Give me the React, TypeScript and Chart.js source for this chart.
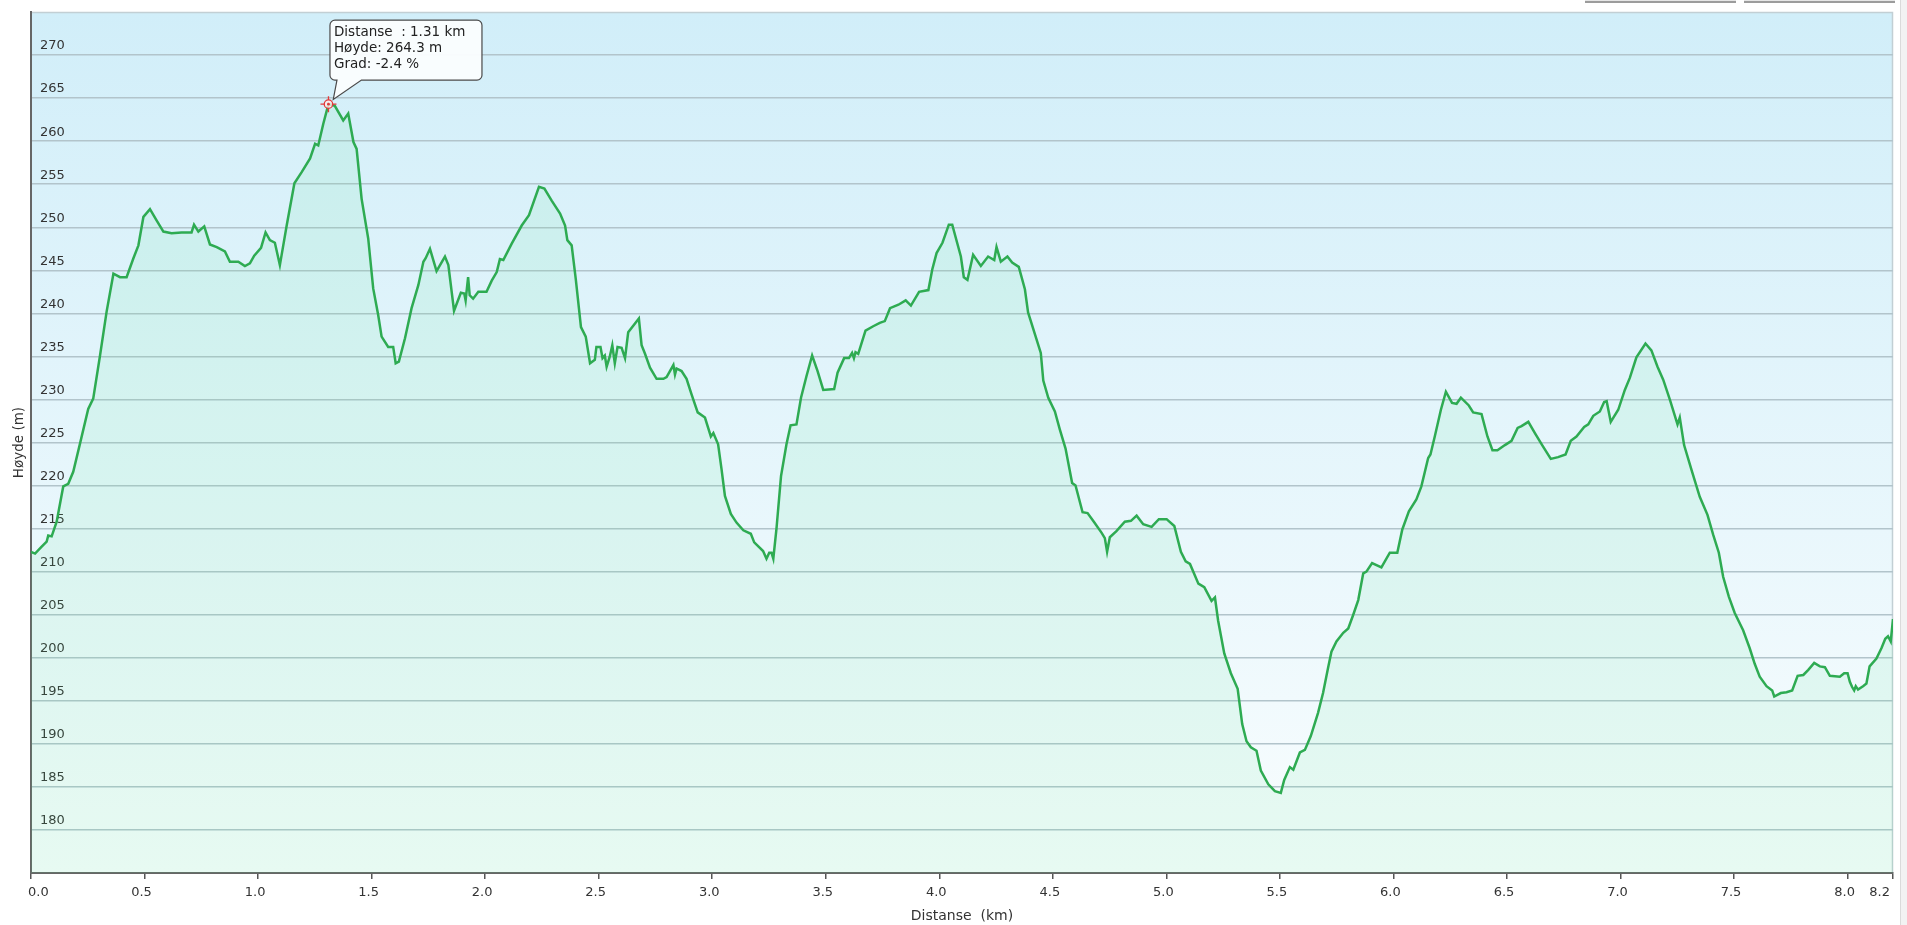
import React, { useEffect, useRef } from "react";
import { Chart, registerables } from "chart.js";

Chart.register(...registerables);

// ---------- data ----------
const distanceKm: number[] = [
  0.0, 0.018, 0.047, 0.069, 0.076, 0.091, 0.113, 0.142, 0.164, 0.186, 0.216, 0.252, 0.274, 0.304, 0.333,
  0.363, 0.392, 0.421, 0.451, 0.473, 0.495, 0.524, 0.553, 0.583, 0.619, 0.663, 0.707, 0.718, 0.737, 0.763,
  0.788, 0.818, 0.854, 0.876, 0.913, 0.942, 0.964, 0.983, 1.013, 1.033, 1.052, 1.074, 1.096, 1.126, 1.16,
  1.192, 1.229, 1.251, 1.265, 1.287, 1.31, 1.338, 1.375, 1.397, 1.42, 1.434, 1.456, 1.485, 1.507, 1.529,
  1.544, 1.573, 1.595, 1.606, 1.62, 1.647, 1.676, 1.706, 1.728, 1.738, 1.757, 1.786, 1.823, 1.838, 1.863,
  1.893, 1.908, 1.914, 1.925, 1.932, 1.947, 1.97, 2.006, 2.029, 2.051, 2.065, 2.08, 2.117, 2.161, 2.193,
  2.237, 2.261, 2.293, 2.33, 2.352, 2.362, 2.381, 2.399, 2.422, 2.443, 2.462, 2.483, 2.49, 2.508, 2.517,
  2.527, 2.535, 2.549, 2.56, 2.571, 2.583, 2.601, 2.616, 2.63, 2.677, 2.689, 2.704, 2.726, 2.755, 2.785,
  2.799, 2.829, 2.836, 2.843, 2.865, 2.887, 2.909, 2.936, 2.968, 2.994, 3.005, 3.026, 3.041, 3.056, 3.082,
  3.107, 3.137, 3.17, 3.185, 3.224, 3.239, 3.251, 3.261, 3.269, 3.283, 3.303, 3.327, 3.345, 3.371, 3.391,
  3.415, 3.44, 3.464, 3.489, 3.537, 3.552, 3.581, 3.602, 3.616, 3.624, 3.631, 3.643, 3.675, 3.709, 3.738,
  3.76, 3.783, 3.82, 3.852, 3.875, 3.911, 3.952, 3.969, 3.988, 4.014, 4.042, 4.057, 4.095, 4.108, 4.124,
  4.149, 4.183, 4.215, 4.242, 4.252, 4.271, 4.3, 4.321, 4.35, 4.377, 4.391, 4.421, 4.447, 4.458, 4.48,
  4.509, 4.531, 4.556, 4.585, 4.6, 4.631, 4.653, 4.683, 4.715, 4.729, 4.739, 4.751, 4.78, 4.817, 4.844,
  4.869, 4.898, 4.935, 4.967, 5.001, 5.035, 5.064, 5.085, 5.104, 5.141, 5.167, 5.199, 5.214, 5.228, 5.255,
  5.284, 5.314, 5.334, 5.353, 5.372, 5.397, 5.416, 5.449, 5.478, 5.504, 5.519, 5.544, 5.559, 5.588, 5.61,
  5.636, 5.668, 5.69, 5.712, 5.727, 5.749, 5.779, 5.801, 5.823, 5.845, 5.867, 5.881, 5.906, 5.947, 5.984,
  6.017, 6.039, 6.068, 6.101, 6.123, 6.153, 6.163, 6.182, 6.209, 6.231, 6.258, 6.278, 6.297, 6.332, 6.351,
  6.388, 6.414, 6.436, 6.458, 6.491, 6.52, 6.547, 6.564, 6.594, 6.623, 6.655, 6.693, 6.725, 6.758, 6.781,
  6.806, 6.84, 6.858, 6.88, 6.909, 6.928, 6.939, 6.957, 6.99, 7.019, 7.041, 7.07, 7.11, 7.136, 7.163,
  7.188, 7.217, 7.251, 7.261, 7.28, 7.313, 7.349, 7.383, 7.408, 7.433, 7.452, 7.477, 7.503, 7.54, 7.569,
  7.591, 7.613, 7.643, 7.668, 7.677, 7.706, 7.731, 7.756, 7.78, 7.805, 7.827, 7.853, 7.878, 7.9, 7.922,
  7.966, 7.985, 8.0, 8.01, 8.02, 8.029, 8.036, 8.046, 8.068, 8.083, 8.097, 8.127, 8.149, 8.166, 8.178,
  8.19, 8.2,
];

const elevationM: number[] = [
  212.3, 212.1, 212.9, 213.5, 214.2, 214.1, 215.8, 219.9, 220.2, 221.6, 224.9, 228.9, 230.1, 235.1, 240.2,
  244.6, 244.2, 244.2, 246.4, 247.9, 251.2, 252.1, 250.8, 249.5, 249.3, 249.4, 249.4, 250.3, 249.5, 250.1,
  248.0, 247.7, 247.2, 246.0, 246.0, 245.5, 245.8, 246.7, 247.6, 249.4, 248.5, 248.2, 245.6, 250.2, 255.1,
  256.4, 258.0, 259.7, 259.5, 262.0, 264.3, 264.1, 262.4, 263.2, 259.9, 259.1, 253.3, 248.7, 242.9, 239.8,
  237.3, 236.1, 236.1, 234.2, 234.4, 237.1, 240.6, 243.3, 246.0, 246.4, 247.5, 244.9, 246.6, 245.6, 240.3,
  242.4, 242.3, 241.5, 244.2, 242.1, 241.7, 242.5, 242.5, 243.8, 244.8, 246.3, 246.2, 248.1, 250.2, 251.4,
  254.7, 254.5, 253.1, 251.6, 250.2, 248.5, 247.9, 244.0, 238.4, 237.3, 234.2, 234.6, 236.1, 236.1, 234.8,
  235.1, 233.8, 235.0, 236.3, 234.2, 236.1, 236.0, 234.8, 237.8, 239.4, 236.3, 235.3, 233.7, 232.4, 232.4,
  232.6, 234.0, 232.9, 233.6, 233.3, 232.4, 230.6, 228.5, 227.9, 225.7, 226.1, 224.8, 221.9, 218.8, 216.7,
  215.7, 214.8, 214.4, 213.4, 212.4, 211.5, 212.2, 212.2, 211.5, 215.0, 221.1, 224.8, 227.0, 227.1, 230.2,
  232.7, 235.1, 233.3, 231.1, 231.2, 233.1, 234.8, 234.8, 235.4, 234.8, 235.5, 235.3, 238.0, 238.5, 238.9,
  239.1, 240.6, 241.0, 241.5, 240.9, 242.5, 242.7, 245.1, 247.0, 248.2, 250.3, 250.3, 246.6, 244.2, 243.9,
  246.8, 245.5, 246.6, 246.2, 247.7, 246.0, 246.6, 245.9, 245.4, 242.8, 240.1, 237.6, 235.4, 232.2, 230.2,
  228.6, 226.5, 224.3, 220.3, 220.0, 216.9, 216.8, 215.7, 214.5, 213.9, 212.3, 214.0, 214.7, 215.8, 215.9,
  216.5, 215.5, 215.2, 216.1, 216.1, 215.3, 212.3, 211.2, 210.9, 208.6, 208.2, 206.6, 207.0, 204.3, 200.5,
  198.2, 196.4, 192.3, 190.3, 189.6, 189.2, 186.9, 185.3, 184.5, 184.3, 185.8, 187.3, 187.0, 189.0, 189.3,
  190.9, 193.6, 195.9, 198.8, 200.7, 201.9, 202.9, 203.4, 205.0, 206.7, 209.8, 210.0, 211.0, 210.5, 212.2,
  212.2, 214.9, 217.0, 218.4, 219.9, 223.2, 223.6, 225.7, 228.8, 230.9, 229.6, 229.5, 230.2, 229.3, 228.5,
  228.3, 225.7, 224.1, 224.1, 224.7, 225.2, 226.7, 226.9, 227.4, 226.1, 224.7, 223.1, 223.3, 223.6, 225.2,
  225.7, 226.8, 227.1, 228.1, 228.6, 229.7, 229.8, 227.4, 228.8, 231.1, 232.5, 234.9, 236.5, 235.7, 233.8,
  232.3, 230.0, 227.1, 227.9, 224.7, 221.8, 218.7, 216.6, 214.3, 212.2, 209.4, 207.1, 205.2, 203.2, 201.1,
  199.3, 197.8, 196.7, 196.2, 195.5, 195.9, 196.0, 196.2, 197.9, 198.0, 198.6, 199.4, 199.0, 198.9, 197.9,
  197.8, 198.2, 198.2, 197.2, 196.6, 196.2, 196.7, 196.3, 196.7, 197.0, 199.0, 199.9, 201.1, 202.2, 202.5,
  201.9, 204.5,
];

const xTickValues: number[] = [0, 0.5, 1, 1.5, 2, 2.5, 3, 3.5, 4, 4.5, 5, 5.5, 6, 6.5, 7, 7.5, 8, 8.2];
const yTickValues: number[] = [180, 185, 190, 195, 200, 205, 210, 215, 220, 225, 230, 235, 240, 245, 250, 255, 260, 265, 270];

const xAxisTitle = "Distanse  (km)";
const yAxisTitle = "Høyde (m)";

const hoverDistanceKm = 1.31;
const hoverGradePercent = -2.4;

const FONT = '"DejaVu Sans", Verdana, sans-serif';

// ---------- plugins ----------
const plotBackground = {
  id: "plotBackground",
  beforeDraw(chart: any) {
    const { ctx, chartArea: a } = chart;
    if (!a) return;
    const g = ctx.createLinearGradient(0, a.top, 0, a.bottom);
    g.addColorStop(0, "#d1eef9");
    g.addColorStop(1, "#f9fdfe");
    ctx.save();
    ctx.fillStyle = g;
    ctx.fillRect(a.left, a.top, a.right - a.left, a.bottom - a.top);
    ctx.strokeStyle = "#c2cfd4";
    ctx.lineWidth = 1.5;
    ctx.beginPath();
    ctx.moveTo(a.left, a.top + 0.5);
    ctx.lineTo(a.right - 0.5, a.top + 0.5);
    ctx.lineTo(a.right - 0.5, a.bottom);
    ctx.stroke();
    ctx.restore();
  },
};

const hoverCallout = {
  id: "hoverCallout",
  afterDraw(chart: any) {
    const idx = distanceKm.indexOf(hoverDistanceKm);
    if (idx < 0) return;
    const pt = chart.getDatasetMeta(0).data[idx];
    if (!pt) return;
    const px = pt.x;
    const py = pt.y;
    const ctx: CanvasRenderingContext2D = chart.ctx;
    ctx.save();

    // marker
    ctx.strokeStyle = "#e23a3a";
    ctx.lineWidth = 1.3;
    ctx.fillStyle = "rgba(255,235,235,0.8)";
    ctx.beginPath();
    ctx.arc(px, py, 4.2, 0, Math.PI * 2);
    ctx.fill();
    ctx.stroke();
    ctx.beginPath();
    ctx.moveTo(px - 8, py); ctx.lineTo(px - 4.2, py);
    ctx.moveTo(px + 4.2, py); ctx.lineTo(px + 8, py);
    ctx.moveTo(px, py - 8); ctx.lineTo(px, py - 4.2);
    ctx.moveTo(px, py + 4.2); ctx.lineTo(px, py + 8);
    ctx.stroke();
    ctx.fillStyle = "#e23a3a";
    ctx.beginPath();
    ctx.arc(px, py, 1.4, 0, Math.PI * 2);
    ctx.fill();

    // callout box
    const bx = px + 1.5;
    const by = py - 84;
    const bw = 152;
    const bh = 60;
    const r = 5;
    const baseL = px + 8.5;
    const baseR = px + 33;
    const ax = px + 4.8;
    const ay = py - 4.7;
    ctx.beginPath();
    ctx.moveTo(bx + r, by);
    ctx.lineTo(bx + bw - r, by);
    ctx.arcTo(bx + bw, by, bx + bw, by + r, r);
    ctx.lineTo(bx + bw, by + bh - r);
    ctx.arcTo(bx + bw, by + bh, bx + bw - r, by + bh, r);
    ctx.lineTo(baseR, by + bh);
    ctx.lineTo(ax, ay);
    ctx.lineTo(baseL, by + bh);
    ctx.lineTo(bx + r, by + bh);
    ctx.arcTo(bx, by + bh, bx, by + bh - r, r);
    ctx.lineTo(bx, by + r);
    ctx.arcTo(bx, by, bx + r, by, r);
    ctx.closePath();
    ctx.fillStyle = "rgba(250,253,254,0.97)";
    ctx.fill();
    ctx.strokeStyle = "#4a4a4a";
    ctx.lineWidth = 1.2;
    ctx.stroke();

    const lines = [
      `Distanse  : ${distanceKm[idx].toFixed(2)} km`,
      `Høyde: ${elevationM[idx].toFixed(1)} m`,
      `Grad: ${hoverGradePercent.toFixed(1)} %`,
    ];
    ctx.fillStyle = "#222";
    ctx.font = 'normal 13.5px "DejaVu Sans", Verdana, sans-serif';
    ctx.textBaseline = "middle";
    ctx.textAlign = "left";
    lines.forEach((t, i) => ctx.fillText(t, bx + 4, by + 12.6 + i * 16));
    ctx.restore();
  },
};

export default function App() {
  const canvasRef = useRef<HTMLCanvasElement | null>(null);

  useEffect(() => {
    if (!canvasRef.current) return;
    const points = distanceKm.map((x, i) => ({ x, y: elevationM[i] }));
    const chart = new Chart(canvasRef.current, {
      type: "line",
      data: {
        datasets: [
          {
            data: points,
            borderColor: "#2eab52",
            borderWidth: 2.5,
            pointRadius: 0,
            pointHoverRadius: 0,
            tension: 0,
            fill: "start",
            backgroundColor: "rgba(90,225,150,0.11)",
          },
        ],
      },
      options: {
        animation: false,
        responsive: true,
        maintainAspectRatio: false,
        events: [],
        layout: { padding: { top: 12, right: 14, left: 0, bottom: 0 } },
        plugins: {
          legend: { display: false },
          tooltip: { enabled: false },
        },
        scales: {
          x: {
            type: "linear",
            min: 0,
            max: 8.2,
            afterBuildTicks: (s: any) => {
              s.ticks = xTickValues.map((v) => ({ value: v }));
            },
            afterFit: (s: any) => {
              s.height = 52;
              s.paddingLeft = 0;
              s.paddingRight = 0;
            },
            ticks: {
              align: "inner",
              labelOffset: -3,
              padding: 6,
              autoSkip: false,
              maxRotation: 0,
              color: "#333",
              font: { family: FONT, size: 13 },
              callback: (v: any) => Number(v).toFixed(1),
            },
            grid: {
              display: true,
              drawOnChartArea: false,
              drawTicks: true,
              tickLength: 6,
              color: "#555",
              lineWidth: 1.5,
            },
            border: { display: true, color: "#666", width: 2 },
            title: {
              display: true,
              text: xAxisTitle,
              color: "#333",
              font: { family: FONT, size: 14 },
              padding: { top: 0, bottom: 0 },
            },
          },
          y: {
            type: "linear",
            min: 175,
            max: 275,
            afterBuildTicks: (s: any) => {
              s.ticks = yTickValues.map((v) => ({ value: v }));
            },
            afterFit: (s: any) => {
              s.width = 31;
              s.paddingTop = 0;
              s.paddingBottom = 0;
            },
            ticks: {
              mirror: true,
              padding: 9,
              labelOffset: -9,
              autoSkip: false,
              color: "#333",
              font: { family: FONT, size: 13 },
              callback: (v: any) => String(v),
            },
            grid: {
              color: "#b2c4cb",
              lineWidth: 1.5,
              drawTicks: false,
              tickLength: 0,
            },
            border: { display: true, color: "#666", width: 2 },
            title: {
              display: true,
              text: yAxisTitle,
              color: "#333",
              font: { family: FONT, size: 13.5 },
              padding: { top: 11, bottom: 0 },
            },
          },
        },
      } as any,
      plugins: [plotBackground, hoverCallout],
    });
    return () => chart.destroy();
  }, []);

  return (
    <div style={{ position: "fixed", left: 0, top: 0, width: 1907, height: 925, background: "#fff" }}>
      <div style={{ position: "absolute", left: 0, top: 0, width: 1907, height: 925 }}>
        <canvas ref={canvasRef} />
      </div>
      <div style={{ position: "absolute", left: 1585, top: 0, width: 151, height: 1, background: "#e6e6e6", borderBottom: "2px solid #9c9c9c" }} />
      <div style={{ position: "absolute", left: 1744, top: 0, width: 151, height: 1, background: "#e6e6e6", borderBottom: "2px solid #9c9c9c" }} />
      <div style={{ position: "absolute", left: 1900, top: 0, width: 7, height: 925, background: "#f2f2f2", borderLeft: "1px solid #dadada", boxSizing: "border-box" }} />
    </div>
  );
}
